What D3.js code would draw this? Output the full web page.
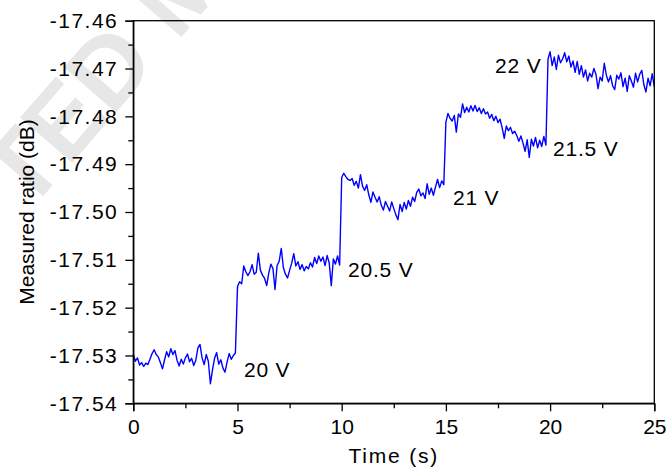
<!DOCTYPE html>
<html>
<head>
<meta charset="utf-8">
<script src="https://cdn.jsdelivr.net/npm/d3@7"></script>
<style>
  body { margin: 0; background: #fff; }
  #my_dataviz { width: 670px; height: 473px; }
  text { font-family: "Liberation Sans", Arial, sans-serif; }
</style>
</head>
<body>
<div id="my_dataviz"></div>
<script>
// Sampled trace, one array per applied voltage (0.1 s sampling)
const sampleStep = 0.1;
const segStart = [0, 5, 10, 15, 19.9];

const seg20V = [-17.5298, -17.5312, -17.5305, -17.5320, -17.5315, -17.5323, -17.5316, -17.5319, -17.5308, -17.5296,
  -17.5288, -17.5298, -17.5303, -17.5315, -17.5328, -17.5309, -17.5292, -17.5303, -17.5286, -17.5298,
  -17.5290, -17.5310, -17.5322, -17.5308, -17.5318, -17.5305, -17.5297, -17.5313, -17.5306, -17.5321,
  -17.5310, -17.5284, -17.5277, -17.5305, -17.5319, -17.5298, -17.5312, -17.5359, -17.5330, -17.5306,
  -17.5294, -17.5318, -17.5309, -17.5326, -17.5335, -17.5314, -17.5296, -17.5308, -17.5300, -17.5295];

const seg20p5V = [-17.5156, -17.5146, -17.5150, -17.5113, -17.5125, -17.5133, -17.5125, -17.5110, -17.5130, -17.5126,
  -17.5086, -17.5122, -17.5132, -17.5139, -17.5154, -17.5128, -17.5109, -17.5118, -17.5162, -17.5112,
  -17.5103, -17.5076, -17.5116, -17.5130, -17.5138, -17.5122, -17.5107, -17.5087, -17.5113, -17.5104,
  -17.5120, -17.5110, -17.5123, -17.5114, -17.5119, -17.5106, -17.5115, -17.5095, -17.5108, -17.5092,
  -17.5103, -17.5094, -17.5112, -17.5091, -17.5106, -17.5154, -17.5098, -17.5109, -17.5092, -17.5111];

const seg21V = [-17.4928, -17.4919, -17.4926, -17.4932, -17.4934, -17.4930, -17.4944, -17.4936, -17.4950, -17.4922,
  -17.4946, -17.4955, -17.4943, -17.4964, -17.4980, -17.4958, -17.4969, -17.4979, -17.4968, -17.4986,
  -17.4996, -17.4978, -17.4988, -17.4998, -17.4979, -17.4993, -17.5006, -17.5016, -17.4984, -17.4999,
  -17.4980, -17.4994, -17.4976, -17.4988, -17.4969, -17.4978, -17.4959, -17.4952, -17.4966, -17.4960,
  -17.4972, -17.4941, -17.4963, -17.4950, -17.4965, -17.4948, -17.4932, -17.4949, -17.4935, -17.4943];

const seg21p5V = [-17.4812, -17.4794, -17.4804, -17.4810, -17.4798, -17.4833, -17.4795, -17.4802, -17.4774, -17.4792,
  -17.4781, -17.4791, -17.4778, -17.4789, -17.4777, -17.4790, -17.4782, -17.4794, -17.4784, -17.4795,
  -17.4791, -17.4804, -17.4796, -17.4809, -17.4800, -17.4813, -17.4806, -17.4824, -17.4846, -17.4820,
  -17.4830, -17.4823, -17.4836, -17.4831, -17.4840, -17.4852, -17.4841, -17.4856, -17.4873, -17.4849,
  -17.4886, -17.4848, -17.4862, -17.4844, -17.4866, -17.4850, -17.4863, -17.4842, -17.4860];

const seg22V = [-17.4680, -17.4665, -17.4694, -17.4676, -17.4702, -17.4672, -17.4688, -17.4680, -17.4667, -17.4686,
  -17.4674, -17.4697, -17.4684, -17.4708, -17.4685, -17.4712, -17.4694, -17.4718, -17.4703, -17.4726,
  -17.4710, -17.4718, -17.4700, -17.4712, -17.4742, -17.4718, -17.4726, -17.4689, -17.4714, -17.4728,
  -17.4715, -17.4736, -17.4744, -17.4714, -17.4722, -17.4709, -17.4738, -17.4720, -17.4748, -17.4715,
  -17.4726, -17.4739, -17.4710, -17.4728, -17.4712, -17.4704, -17.4734, -17.4749, -17.4720, -17.4736,
  -17.4711, -17.4738];

// Axis ticks
const xTicks = [0, 5, 10, 15, 20, 25];
const xMinorTicks = [2.5, 7.5, 12.5, 17.5, 22.5];
const yTicks = [-17.54, -17.53, -17.52, -17.51, -17.50, -17.49, -17.48, -17.47, -17.46];
const yTickLabels = ["-17.54", "-17.53", "-17.52", "-17.51", "-17.50", "-17.49", "-17.48", "-17.47", "-17.46"];
const yMinorTicks = [-17.535, -17.525, -17.515, -17.505, -17.495, -17.485, -17.475, -17.465];

// Voltage annotations (time, value of text baseline)
const voltLabels = ["20 V", "20.5 V", "21 V", "21.5 V", "22 V"];
const voltT = [5.31, 10.30, 15.34, 20.14, 17.36];
const voltV = [-17.5345, -17.5136, -17.4985, -17.4883, -17.4709];

const margin = { top: 20.7, right: 15.7, bottom: 69.7, left: 133.3 };
const W = 670, H = 473;
const width = W - margin.left - margin.right;
const height = H - margin.top - margin.bottom;

const root = d3.select("#my_dataviz")
  .append("svg")
    .attr("width", W)
    .attr("height", H);

// faint watermark in the background
root.append("text")
    .attr("transform", "translate(-202,478) rotate(-49)")
    .attr("font-size", 100)
    .attr("font-weight", "bold")
    .attr("fill", "#e7e7e7")
    .text("ACCEPTED MANUSCRIPT");

const svg = root.append("g")
    .attr("transform", `translate(${margin.left},${margin.top})`);

const x = d3.scaleLinear().domain([0, 25]).range([0, width]);
const y = d3.scaleLinear().domain([-17.54, -17.46]).range([height, 0]);

// Build the trace from the segments
const segments = [seg20V, seg20p5V, seg21V, seg21p5V, seg22V];
const trace = segments.flatMap((vals, k) =>
  vals.map((v, i) => ({ t: segStart[k] + i * sampleStep, v: v })));

const line = d3.line().x(d => x(d.t)).y(d => y(d.v));
svg.append("path")
    .datum(trace)
    .attr("fill", "none")
    .attr("stroke", "#0000ff")
    .attr("stroke-width", 1.4)
    .attr("stroke-linejoin", "round")
    .attr("d", line);

// Axes
svg.append("g")
    .attr("transform", `translate(0,${height})`)
    .call(d3.axisBottom(x).tickValues(xTicks).tickSize(8).tickPadding(8).tickFormat(d3.format("d")));
svg.append("g")
    .attr("transform", `translate(0,${height})`)
    .call(d3.axisBottom(x).tickValues(xMinorTicks).tickSize(5).tickFormat(""))
    .call(g => g.select(".domain").remove());

const yAxis = svg.append("g")
    .call(d3.axisLeft(y).tickValues(yTicks).tickSize(8).tickPadding(7)
      .tickFormat((d, i) => yTickLabels[i]));
svg.append("g")
    .call(d3.axisLeft(y).tickValues(yMinorTicks).tickSize(5).tickFormat(""))
    .call(g => g.select(".domain").remove());

svg.selectAll(".tick line").attr("stroke", "#000").attr("stroke-width", 1.3);
svg.selectAll(".domain").attr("stroke", "#000").attr("stroke-width", 1.3);
svg.selectAll(".tick text")
    .attr("font-family", "'Liberation Sans', Arial, sans-serif")
    .attr("font-size", 21)
    .attr("fill", "#000");
yAxis.selectAll(".tick text").attr("letter-spacing", 1.5);

// frame top and right
svg.append("rect")
    .attr("width", width)
    .attr("height", height)
    .attr("fill", "none")
    .attr("stroke", "#000")
    .attr("stroke-width", 1.3);

// Axis titles
root.append("text")
    .attr("x", margin.left + width / 2)
    .attr("y", 463)
    .attr("text-anchor", "middle")
    .attr("font-size", 21)
    .attr("letter-spacing", 1.8)
    .text("Time (s)");

root.append("text")
    .attr("transform", `translate(34,${margin.top + height / 2}) rotate(-90)`)
    .attr("text-anchor", "middle")
    .attr("font-size", 21)
    .text("Measured ratio (dB)");

// Voltage annotations
svg.selectAll(".volt")
  .data(voltLabels)
  .join("text")
    .attr("class", "volt")
    .attr("x", (d, i) => x(voltT[i]))
    .attr("y", (d, i) => y(voltV[i]))
    .attr("font-size", 21)
    .attr("letter-spacing", 0.8)
    .text(d => d);
</script>
</body>
</html>
